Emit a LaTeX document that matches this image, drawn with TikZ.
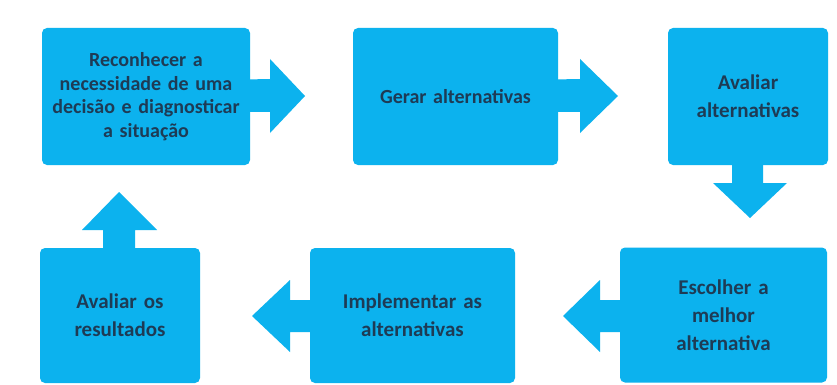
\documentclass[tikz,border=0pt]{standalone}
\usepackage{fontspec}
\setmainfont{Carlito}
\usetikzlibrary{calc}
\definecolor{boxblue}{HTML}{0CB2EE}
\definecolor{txtnavy}{HTML}{1E3B55}
\tikzset{
  stepbox/.style={rectangle, rounded corners=5pt, fill=boxblue, draw=none,
    inner sep=0pt, align=center, text=txtnavy,
    font=\fontsize{21}{28}\selectfont\bfseries},
  bigtext/.style={font=\fontsize{20}{23.5}\selectfont\bfseries},
  blockarrow/.style={fill=boxblue, draw=none}
}
\begin{document}
\begin{tikzpicture}[x=1pt,y=-1pt]
\useasboundingbox (0,0) rectangle (837,385);
\fill[white] (0,0) rectangle (837,385);
% boxes
\node[stepbox, bigtext, minimum width=208pt, minimum height=137pt, text width=204pt] (b1) at (146,96.5)
  {Reconhecer a\\necessidade de uma\\decisão e diagnosticar\\a situação};
\node[stepbox, bigtext, minimum width=205pt, minimum height=137pt, text width=195pt] (b2) at (455.5,96.5)
  {Gerar alternativas};
\node[stepbox, minimum width=160pt, minimum height=137pt, text width=150pt] (b3) at (748,96.5)
  {Avaliar\\alternativas};
\node[stepbox, minimum width=207pt, minimum height=135pt, text width=195pt] (b6) at (723.5,315)
  {Escolher a\\melhor\\alternativa};
\node[stepbox, minimum width=205pt, minimum height=135pt, text width=195pt] (b5) at (412.5,315.5)
  {Implementar as\\alternativas};
\node[stepbox, minimum width=160pt, minimum height=135pt, text width=150pt] (b4) at (120,315.5)
  {Avaliar os\\resultados};
% block arrows
% b1 -> b2
\coordinate (t1) at (305,96);
\fill[blockarrow] ($(b1.east)+(-5,-17)$) -- (270,79) -- (270,59) -- (t1) -- (270,133) -- (270,112) -- ($(b1.east)+(-5,15.5)$) -- cycle;
% b2 -> b3
\coordinate (t2) at (618,96);
\fill[blockarrow] ($(b2.east)+(-5,-17)$) -- (580,79) -- (580,59) -- (t2) -- (580,133) -- (580,112) -- ($(b2.east)+(-5,15.5)$) -- cycle;
% b3 -> b6 (down)
\coordinate (t3) at (750,218);
\fill[blockarrow] (732,160) -- (732,183) -- (713,183) -- (t3) -- (787,183) -- (763,183) -- (763,160) -- cycle;
% b6 -> b5 (left)
\coordinate (t4) at (563,316);
\fill[blockarrow] ($(b6.west)+(5,-15)$) -- (600,300) -- (600,280) -- (t4) -- (600,352) -- (600,332) -- ($(b6.west)+(5,17)$) -- cycle;
% b5 -> b4 (left)
\coordinate (t5) at (252,316);
\fill[blockarrow] ($(b5.west)+(5,-15.5)$) -- (290,300) -- (290,280) -- (t5) -- (290,352) -- (290,332) -- ($(b5.west)+(5,16.5)$) -- cycle;
% b4 -> b1 (up)
\coordinate (t6) at (119,192);
\fill[blockarrow] (103,253) -- (103,230) -- (82,230) -- (t6) -- (157,230) -- (135,230) -- (135,253) -- cycle;
\end{tikzpicture}
\end{document}
